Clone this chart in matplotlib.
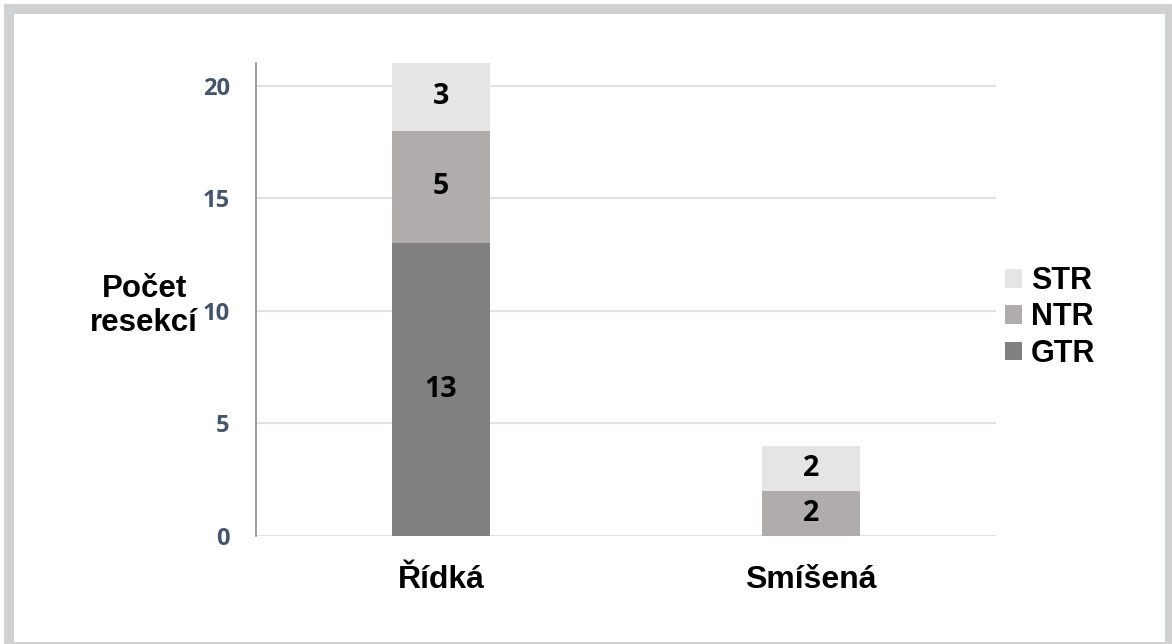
import matplotlib.pyplot as plt
from matplotlib.patches import Rectangle

categories = ["Řídká", "Smíšená"]
series_names = ["GTR", "NTR", "STR"]
gtr = [13, 0]
ntr = [5, 2]
str_vals = [3, 2]
y_ticks = [0, 5, 10, 15, 20]

colors = {"GTR": "#808080", "NTR": "#b0acab", "STR": "#e5e5e5"}
values = {"GTR": gtr, "NTR": ntr, "STR": str_vals}

W, H = 1172, 644
fig = plt.figure(figsize=(W / 100, H / 100), dpi=100)

# grey frame round the white panel
fig.patches.append(Rectangle((4 / W, 0), 1, 1 - 4 / H, transform=fig.transFigure,
                             facecolor="#d0d1d3", edgecolor="none", zorder=-2))
fig.patches.append(Rectangle((14 / W, 2 / H), (1165 - 14) / W, (642 - 14) / H,
                             transform=fig.transFigure, facecolor="white",
                             edgecolor="none", zorder=-1))

ax = fig.add_axes([256 / W, 1 - 536 / H, (996 - 256) / W, (536 - 63) / H])
ax.set_facecolor("none")
ax.set_zorder(2)

x = list(range(len(categories)))
bottom = [0] * len(categories)
handles = {}
for name in series_names:
    vals = values[name]
    bars = ax.bar(x, vals, width=0.263, bottom=bottom, color=colors[name],
                  zorder=3, label=name)
    handles[name] = bars
    for xi, v, b in zip(x, vals, bottom):
        if v > 0:
            ax.text(xi, b + v / 2, str(v), ha="center", va="center",
                    fontsize=20.5, fontweight="bold", family="Open Sans",
                    color="black", zorder=4)
    bottom = [b + v for b, v in zip(bottom, vals)]

ax.set_xlim(-0.5, 1.5)
ax.set_ylim(0, 21)
ax.set_yticks(y_ticks)
ax.yaxis.grid(True, color="#dde3ea", linewidth=1.5, zorder=0)
ax.set_axisbelow(True)

for side in ["top", "right", "bottom"]:
    ax.spines[side].set_visible(False)
ax.spines["left"].set_color("#8c8c8c")
ax.spines["left"].set_linewidth(1.2)

ax.tick_params(axis="y", length=0, pad=19, labelsize=17, labelcolor="#44546a")
for lab in ax.get_yticklabels():
    lab.set_fontweight("bold")
    lab.set_family("Open Sans")

ax.set_xticks(x)
ax.set_xticklabels(categories, fontsize=23, fontweight="bold",
                   family="Liberation Sans")
ax.tick_params(axis="x", length=0, pad=21)

fig.text(144 / W, 1 - 306 / H, "Počet\nresekcí", ha="center", va="center",
         fontsize=22.5, fontweight="bold", family="Liberation Sans",
         linespacing=1.2, zorder=3)

leg = ax.legend([handles[n] for n in ["STR", "NTR", "GTR"]], ["STR", "NTR", "GTR"],
                loc="center left", bbox_to_anchor=(1.0, 0.462), frameon=False,
                prop={"family": "Liberation Sans", "weight": "bold", "size": 22},
                handlelength=0.55, handleheight=0.55, handletextpad=0.3,
                labelspacing=0.2, borderaxespad=0.3, borderpad=0)

fig.savefig("out.png", dpi=100)
